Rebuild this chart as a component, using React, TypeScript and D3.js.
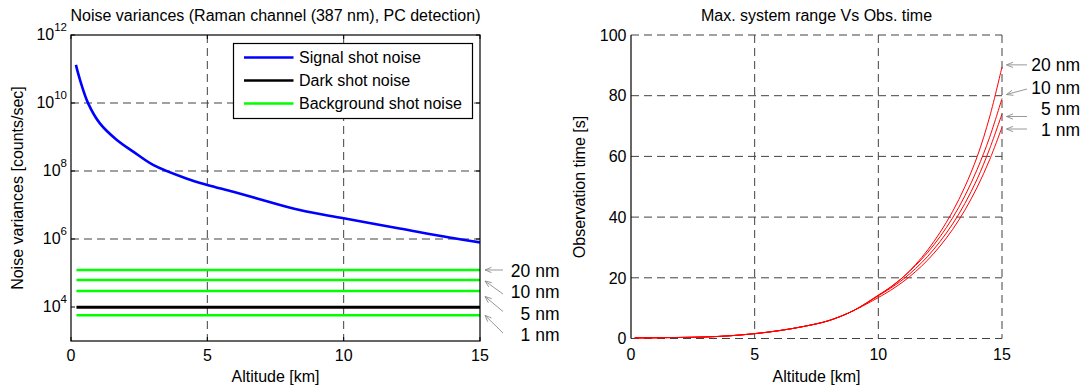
import React from "react";
import * as d3 from "d3";

// ---------- Left chart data ----------
const signalAlt = [0.18, 0.33, 0.63, 1.06, 1.67, 2.28, 3.01, 4.23, 5.0, 5.95, 6.92, 8.39, 10.0, 12.05, 13.88, 15.0];
const signalVar = [1.32e11, 4.79e10, 9.77e9, 2.51e9, 8.32e8, 3.72e8, 1.51e8, 6.03e7, 3.89e7, 2.45e7, 1.48e7, 7.08e6, 4.07e6, 2.04e6, 1.10e6, 7.94e5];
const flatAlt = [0.2, 15.0];
const darkVar = 9.8e3;
const bgLabels = ["20 nm", "10 nm", "5 nm", "1 nm"];
const bgVar = [1.23e5, 6.2e4, 2.96e4, 5.7e3];
const leftYTicks = [4, 6, 8, 10, 12];
const xTicks = [0, 5, 10, 15];
const legendLabels = ["Signal shot noise", "Dark shot noise", "Background shot noise"];
const legendColors = ["#0000ff", "#000000", "#00ff00"];

// ---------- Right chart data ----------
const obsAlt = [0.15, 1, 2, 3, 4, 5, 6, 7, 8, 9, 10, 10.5, 11, 11.5, 12, 12.5, 13, 13.5, 14, 14.5, 15];
const obsLow = [0.2, 0.25, 0.35, 0.5, 0.9, 1.6, 2.6, 4.0, 5.9, 9.2];
const obs20 = [14.2, 16.9, 20.2, 24.3, 29.2, 35.0, 41.8, 50.0, 60.0, 73.0, 89.5];
const obs10 = [14.3, 17.0, 20.2, 24.0, 28.4, 33.6, 39.7, 47.0, 55.8, 66.3, 79.1];
const obs5 = [14.1, 16.6, 19.5, 23.0, 27.1, 32.0, 37.7, 44.5, 52.6, 62.5, 74.0];
const obs1 = [13.5, 15.9, 18.7, 22.0, 25.9, 30.5, 35.9, 42.3, 49.9, 58.9, 69.6];
const obsSeries = [obs20, obs10, obs5, obs1];
const rightYTicks = [0, 20, 40, 60, 80, 100];

const FONT = "'Liberation Sans', Arial, sans-serif";
const GRID_DASH = "8,5";

function Arrow({ x1, y1, x2, y2 }: { x1: number; y1: number; x2: number; y2: number }) {
  const ang = Math.atan2(y2 - y1, x2 - x1);
  const L = 7;
  const a = (22 * Math.PI) / 180;
  const h1 = [x2 - L * Math.cos(ang - a), y2 - L * Math.sin(ang - a)];
  const h2 = [x2 - L * Math.cos(ang + a), y2 - L * Math.sin(ang + a)];
  return (
    <g stroke="#8c8c8c" strokeWidth={0.9} fill="none">
      <line x1={x1} y1={y1} x2={x2} y2={y2} />
      <polyline points={`${h1[0]},${h1[1]} ${x2},${y2} ${h2[0]},${h2[1]}`} />
    </g>
  );
}

export default function App() {
  const lx = d3.scaleLinear().domain([0, 15]).range([71, 480]);
  const ly = d3.scaleLog().domain([1e3, 1e12]).range([341, 35]);
  const rx = d3.scaleLinear().domain([0, 15]).range([631, 1002]);
  const ry = d3.scaleLinear().domain([0, 100]).range([338.5, 35]);

  const signalLine = d3
    .line<number>()
    .x((_, i) => lx(signalAlt[i]))
    .y((d) => ly(d))
    .curve(d3.curveCatmullRom.alpha(0.5));

  const flatLine = (v: number) =>
    d3
      .line<number>()
      .x((a) => lx(a))
      .y(() => ly(v))(flatAlt) as string;

  const obsLine = d3
    .line<number>()
    .x((_, i) => rx(obsAlt[i]))
    .y((d) => ry(d))
    .curve(d3.curveCatmullRom.alpha(0.5));

  const L = { x0: 71, x1: 480, y0: 35, y1: 341 };
  const R = { x0: 631, x1: 1002, y0: 35, y1: 338.5 };

  const leftArrowTails = [0, 1, 2, 3].map((i) => ({ x: 503, y: [270, 294, 311.5, 333][i] }));
  const leftArrowHeadY = [ly(bgVar[0]), ly(bgVar[1]) + 1, 296.5, ly(bgVar[3])];
  const leftTextY = [276.7, 298.3, 320, 341];

  const rightEnds = obsSeries.map((s) => ry(s[s.length - 1]));
  const rightTails = [
    { x: 1027, y: rightEnds[0] - 2 },
    { x: 1027, y: 89 },
    { x: 1027, y: 116.5 },
    { x: 1027, y: 129 },
  ];
  const rightHeads = [
    { x: 1006.5, y: rightEnds[0] - 2 },
    { x: 1006.5, y: 94.5 },
    { x: 1006.5, y: 116.5 },
    { x: 1006.5, y: 129 },
  ];
  const rightTextY = [71, 93.5, 115, 135.5];

  return (
    <svg
      width={1087}
      height={392}
      style={{ position: "absolute", left: 0, top: 0, background: "#fff" }}
      fontFamily={FONT}
    >
      <rect x={0} y={0} width={1087} height={392} fill="#fff" />

      {/* ================= LEFT CHART ================= */}
      <g stroke="#222" strokeWidth={1} strokeDasharray={GRID_DASH} opacity={0.85}>
        {xTicks.slice(1, -1).map((t) => (
          <line key={"lgx" + t} x1={lx(t)} x2={lx(t)} y1={L.y0} y2={L.y1} />
        ))}
        {leftYTicks.slice(1, -1).map((t) => (
          <line key={"lgy" + t} x1={L.x0} x2={L.x1} y1={ly(Math.pow(10, t))} y2={ly(Math.pow(10, t))} />
        ))}
      </g>

      {bgVar.map((v, i) => (
        <path key={"bg" + i} d={flatLine(v)} stroke="#00ff00" strokeWidth={2.6} fill="none" />
      ))}
      <path d={flatLine(darkVar)} stroke="#000" strokeWidth={3} fill="none" />
      <path d={signalLine(signalVar) as string} stroke="#0000ff" strokeWidth={2.6} fill="none" strokeLinejoin="round" />

      <rect x={L.x0} y={L.y0} width={L.x1 - L.x0} height={L.y1 - L.y0} fill="none" stroke="#000" strokeWidth={1.2} />
      <g stroke="#000" strokeWidth={1}>
        {xTicks.map((t) => (
          <g key={"lxt" + t}>
            <line x1={lx(t)} x2={lx(t)} y1={L.y1} y2={L.y1 - 4} />
            <line x1={lx(t)} x2={lx(t)} y1={L.y0} y2={L.y0 + 4} />
          </g>
        ))}
        {leftYTicks.map((t) => (
          <g key={"lyt" + t}>
            <line x1={L.x0} x2={L.x0 + 4} y1={ly(Math.pow(10, t))} y2={ly(Math.pow(10, t))} />
            <line x1={L.x1} x2={L.x1 - 4} y1={ly(Math.pow(10, t))} y2={ly(Math.pow(10, t))} />
          </g>
        ))}
      </g>

      <g fontSize={16} fill="#000">
        {xTicks.map((t) => (
          <text key={"lxl" + t} x={lx(t)} y={361} textAnchor="middle">
            {t}
          </text>
        ))}
        {leftYTicks.map((t) => (
          <text key={"lyl" + t} x={67} y={ly(Math.pow(10, t)) + 5} textAnchor="end">
            10
            <tspan fontSize={11.5} dy={-9}>
              {t}
            </tspan>
          </text>
        ))}
      </g>

      <rect x={233.5} y={43.5} width={239} height={75} fill="#fff" stroke="#000" strokeWidth={1.2} />
      {legendLabels.map((lab, i) => (
        <g key={"leg" + i}>
          <line x1={244} x2={293.5} y1={57.5 + i * 23} y2={57.5 + i * 23} stroke={legendColors[i]} strokeWidth={2.6} />
          <text x={299} y={63.3 + i * 23} fontSize={16}>
            {lab}
          </text>
        </g>
      ))}

      <text x={275.5} y={20.5} textAnchor="middle" fontSize={16}>
        Noise variances (Raman channel (387 nm), PC detection)
      </text>
      <text x={275.5} y={382} textAnchor="middle" fontSize={16}>
        Altitude [km]
      </text>
      <text transform="translate(23,188) rotate(-90)" textAnchor="middle" fontSize={16}>
        Noise variances [counts/sec]
      </text>

      {bgLabels.map((lab, i) => (
        <g key={"lann" + i}>
          <Arrow x1={leftArrowTails[i].x} y1={leftArrowTails[i].y} x2={485} y2={leftArrowHeadY[i]} />
          <text x={559.5} y={leftTextY[i]} textAnchor="end" fontSize={17.5}>
            {lab}
          </text>
        </g>
      ))}

      {/* ================= RIGHT CHART ================= */}
      <g stroke="#222" strokeWidth={1} strokeDasharray={GRID_DASH} opacity={0.85}>
        {xTicks.slice(1).map((t) => (
          <line key={"rgx" + t} x1={rx(t)} x2={rx(t)} y1={R.y0} y2={R.y1} />
        ))}
        {rightYTicks.map((t) => (
          <line key={"rgy" + t} x1={R.x0} x2={R.x1} y1={ry(t)} y2={ry(t)} />
        ))}
      </g>
      <line x1={R.x0} x2={R.x0} y1={R.y0} y2={R.y1} stroke="#000" strokeWidth={1.2} />

      {obsSeries.map((s, i) => (
        <path
          key={"obs" + i}
          d={obsLine(obsLow.concat(s)) as string}
          stroke="#ff0000"
          strokeWidth={1}
          fill="none"
        />
      ))}

      <g fontSize={16} fill="#000">
        {xTicks.map((t) => (
          <text key={"rxl" + t} x={rx(t)} y={359.5} textAnchor="middle">
            {t}
          </text>
        ))}
        {rightYTicks.map((t) => (
          <text key={"ryl" + t} x={626.5} y={ry(t) + 5.7} textAnchor="end">
            {t}
          </text>
        ))}
      </g>

      <text x={816.5} y={20.5} textAnchor="middle" fontSize={16}>
        Max. system range Vs Obs. time
      </text>
      <text x={816.5} y={382} textAnchor="middle" fontSize={16}>
        Altitude [km]
      </text>
      <text transform="translate(585,187) rotate(-90)" textAnchor="middle" fontSize={16}>
        Observation time [s]
      </text>

      {bgLabels.map((lab, i) => (
        <g key={"rann" + i}>
          <Arrow x1={rightTails[i].x} y1={rightTails[i].y} x2={rightHeads[i].x} y2={rightHeads[i].y} />
          <text x={1080} y={rightTextY[i]} textAnchor="end" fontSize={17.5}>
            {lab}
          </text>
        </g>
      ))}
    </svg>
  );
}
